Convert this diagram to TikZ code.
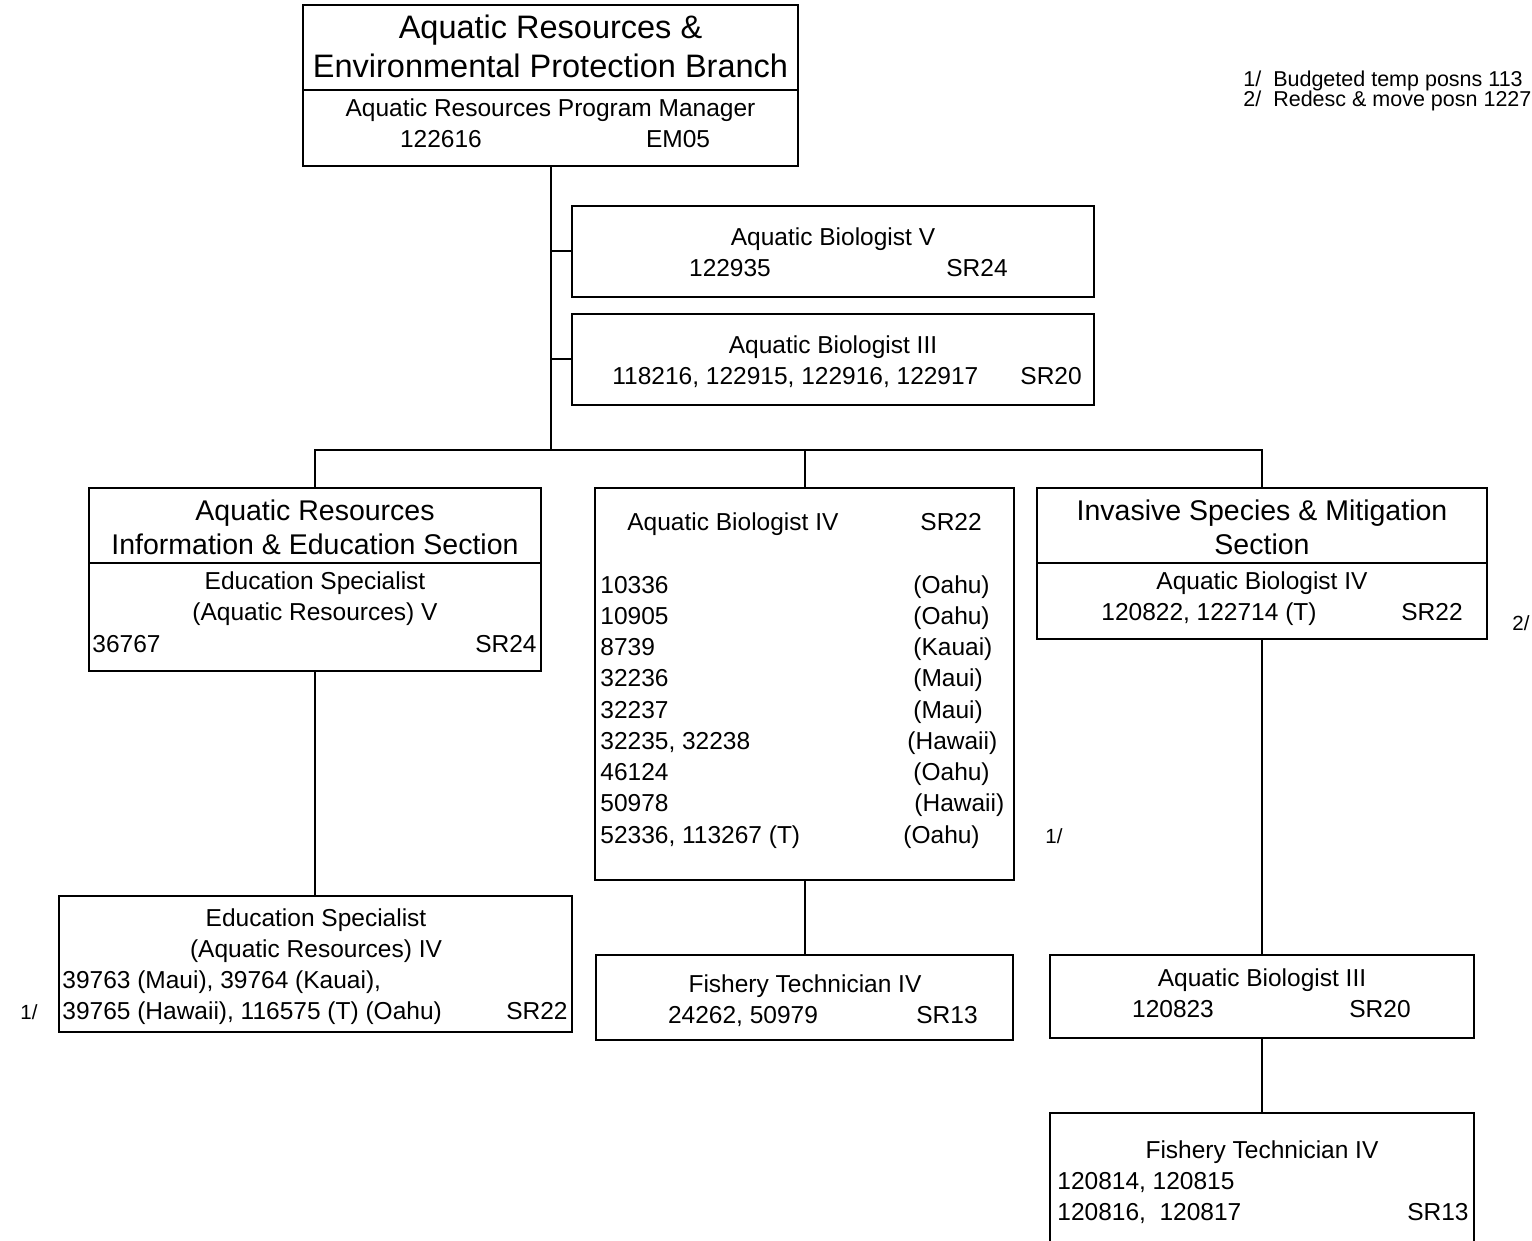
\documentclass[tikz,border=0pt]{standalone}
\usepackage{fontspec}
\setmainfont{Liberation Sans}
\usetikzlibrary{fit}
\begin{document}
\begin{tikzpicture}[x=0.5pt,y=-0.5pt,
  box/.style={draw, line width=1pt, inner sep=0pt},
  conn/.style={line width=1pt},
  body/.style={inner sep=0pt, font=\fontsize{12.25}{15.5}\selectfont},
  big/.style={inner sep=0pt, font=\fontsize{16.25}{20}\selectfont},
  sect/.style={inner sep=0pt, font=\fontsize{14.25}{18}\selectfont},
  note/.style={inner sep=0pt, font=\fontsize{10.25}{10.5}\selectfont},
  topnote/.style={inner sep=0pt, font=\fontsize{10.75}{11.5}\selectfont},
  ct/.style={anchor=base}, lt/.style={anchor=base west}, rt/.style={anchor=base east}]
\useasboundingbox (0,0) rectangle (1532,1241);
\fill[white] (0,0) rectangle (1532,1241);
\clip (0,0) rectangle (1532,1241);

% boxes
\node[box, fit={(303,5) (798,166)}] (top) {};
\node[box, fit={(572,206) (1094,297)}] (abv) {};
\node[box, fit={(572,314) (1094,405)}] (abiii) {};
\node[box, fit={(89,488) (541,671)}] (lsec) {};
\node[box, fit={(595,488) (1014,880)}] (msec) {};
\node[box, fit={(1037,488) (1487,639)}] (rsec) {};
\node[box, fit={(59,896) (572,1032)}] (edu) {};
\node[box, fit={(596,955) (1013,1040)}] (fta) {};
\node[box, fit={(1050,955) (1474,1038)}] (abr) {};
\node[box, fit={(1050,1113) (1474,1260)}] (ftb) {};

% dividers
\draw[conn] (303,90) -- (798,90);
\draw[conn] (89,563) -- (541,563);
\draw[conn] (1037,563) -- (1487,563);

% connectors
\coordinate (bus) at (550.5,450);
\draw[conn] (top.south) -- (bus);
\draw[conn] (top.south |- abv.west) -- (abv.west);
\draw[conn] (top.south |- abiii.west) -- (abiii.west);
\draw[conn] (lsec.north) |- (bus) -| (rsec.north);
\draw[conn] (msec.north) -- (msec.north |- bus);
\draw[conn] (lsec.south) -- (lsec.south |- edu.north);
\draw[conn] (msec.south) -- (msec.south |- fta.north);
\draw[conn] (rsec.south) -- (rsec.south |- abr.north);
\draw[conn] (abr.south) -- (abr.south |- ftb.north);

% top box text
\node[big, ct] (t1) at (550.5,39) {Aquatic Resources \&};
\node[big, ct] (t2) at (550.5,78) {Environmental Protection Branch};
\node[body, ct] (t3) at (550.5,117) {Aquatic Resources Program Manager};
\node[body, ct] (t4) at (441,148) {122616};
\node[body, ct] (t5) at (678,148) {EM05};

% AB V
\node[body, ct] (v1) at (833,246) {Aquatic Biologist V};
\node[body, ct] (v2) at (730,277) {122935};
\node[body, ct] (v3) at (977,277) {SR24};

% AB III
\node[body, ct] (w1) at (833,354) {Aquatic Biologist III};
\node[body, lt] (w2) at (612,385) {118216, 122915, 122916, 122917};
\node[body, lt] (w3) at (1020,385) {SR20};

% left section
\node[sect, ct] (l1) at (315,520) {Aquatic Resources};
\node[sect, ct] (l2) at (315,554) {Information \& Education Section};
\node[body, ct] (l3) at (315,589) {Education Specialist};
\node[body, ct] (l4) at (315,620) {(Aquatic Resources) V};
\node[body, lt] (l5) at (92,652) {36767};
\node[body, rt] (l6) at (537,652) {SR24};

% middle section
\node[body, lt] (m0) at (627,530) {Aquatic Biologist IV};
\node[body, lt] (m0b) at (920,530) {SR22};
\node[body, lt] (ma1) at (600,593) {10336};
\node[body, lt] (mb1) at (913,593) {(Oahu)};
\node[body, lt] (ma2) at (600,624.25) {10905};
\node[body, lt] (mb2) at (913,624.25) {(Oahu)};
\node[body, lt] (ma3) at (600,655.5) {8739};
\node[body, lt] (mb3) at (913,655.5) {(Kauai)};
\node[body, lt] (ma4) at (600,686.75) {32236};
\node[body, lt] (mb4) at (913,686.75) {(Maui)};
\node[body, lt] (ma5) at (600,718) {32237};
\node[body, lt] (mb5) at (913,718) {(Maui)};
\node[body, lt] (ma6) at (600,749.25) {32235, 32238};
\node[body, lt] (mb6) at (907,749.25) {(Hawaii)};
\node[body, lt] (ma7) at (600,780.5) {46124};
\node[body, lt] (mb7) at (913,780.5) {(Oahu)};
\node[body, lt] (ma8) at (600,811.75) {50978};
\node[body, lt] (mb8) at (914,811.75) {(Hawaii)};
\node[body, lt] (ma9) at (600,843) {52336, 113267 (T)};
\node[body, lt] (mb9) at (903,843) {(Oahu)};
\node[note, lt] (n1m) at (1045,843) {1/};

% right section
\node[sect, ct] (r1) at (1262,520) {Invasive Species \& Mitigation};
\node[sect, ct] (r2) at (1262,554) {Section};
\node[body, ct] (r3) at (1262,589) {Aquatic Biologist IV};
\node[body, ct] (r4) at (1209,620) {120822, 122714 (T)};
\node[body, ct] (r5) at (1432,620) {SR22};
\node[note, lt] (n2r) at (1512,630) {2/};

% education IV
\node[body, ct] (e1) at (316,926) {Education Specialist};
\node[body, ct] (e2) at (316,957) {(Aquatic Resources) IV};
\node[body, lt] (e3) at (62,988) {39763 (Maui), 39764 (Kauai),};
\node[body, lt] (e4) at (62,1019) {39765 (Hawaii), 116575 (T) (Oahu)};
\node[body, rt] (e5) at (568,1019) {SR22};
\node[note, lt] (n1e) at (20,1019) {1/};

% fishery tech (middle)
\node[body, ct] (f1) at (805,992) {Fishery Technician IV};
\node[body, ct] (f2) at (743,1023) {24262, 50979};
\node[body, ct] (f3) at (947,1023) {SR13};

% AB III right
\node[body, ct] (g1) at (1262,986) {Aquatic Biologist III};
\node[body, ct] (g2) at (1173,1017) {120823};
\node[body, ct] (g3) at (1380,1017) {SR20};

% fishery tech (right)
\node[body, ct] (h1) at (1262,1158) {Fishery Technician IV};
\node[body, lt] (h2) at (1057,1189) {120814, 120815};
\node[body, lt] (h3) at (1057,1220) {120816,\ \ 120817};
\node[body, rt] (h4) at (1469,1220) {SR13};

% notes
\node[topnote, lt] (nt1) at (1243,87) {1/\ \ Budgeted temp posns 113};
\node[topnote, lt] (nt2) at (1243,107) {2/\ \ Redesc \& move posn 1227};
\end{tikzpicture}
\end{document}
